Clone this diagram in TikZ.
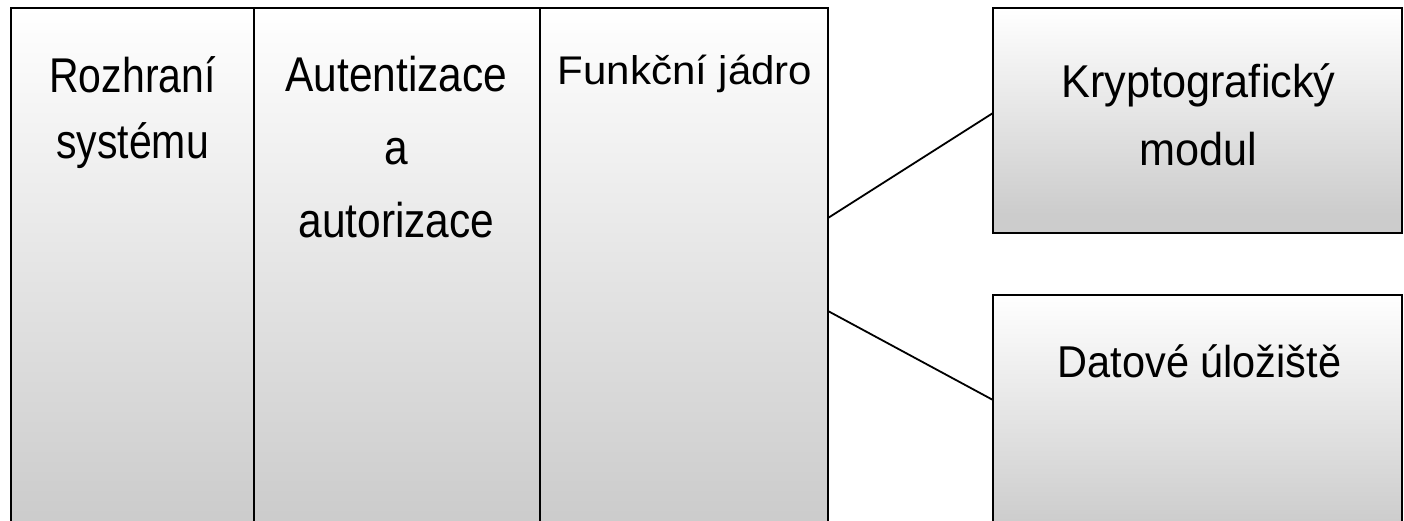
\documentclass[tikz,border=0pt]{standalone}
\usepackage{fontspec}
\setmainfont{Liberation Sans}
\newfontfamily\panelfontA{Liberation Sans}[FakeStretch=0.84]
\newfontfamily\panelfontB{Liberation Sans}[FakeStretch=0.87]
\newfontfamily\panelfontC{Liberation Sans}[FakeStretch=1.05]
\newfontfamily\panelfontD{Liberation Sans}[FakeStretch=0.94]
\newfontfamily\panelfontE{Liberation Sans}[FakeStretch=0.93]

\definecolor{panelgray}{HTML}{CCCCCC}
% white at the top, grey towards the bottom, flat in the last part
\pgfdeclareverticalshading{panelgrad}{100bp}{%
  color(0bp)=(panelgray); color(29bp)=(panelgray);
  color(75bp)=(white); color(100bp)=(white)}

\tikzset{
  panel/.style={draw=black, line width=1pt, shading=panelgrad, rectangle,
                inner sep=0pt, outer sep=0pt, anchor=north west},
  ptext/.style={inner sep=0pt, align=center, anchor=base, text=black},
  link/.style={draw=black, line width=0.9pt}
}

\begin{document}
\begin{tikzpicture}[x=0.5pt, y=-0.5pt]
  \useasboundingbox (0,0) rectangle (1404,520);
  \clip (0,0) rectangle (1404,520);

  % three stacked layers of the system
  \node[panel, minimum width=121.5pt, minimum height=276pt] (col1) at (11,8) {};
  \node[panel, minimum width=143pt,   minimum height=276pt] (col2) at (254,8) {};
  \node[panel, minimum width=144pt,   minimum height=276pt] (col3) at (540,8) {};

  % external modules
  \node[panel, minimum width=204.5pt, minimum height=112.5pt] (kb) at (993,8) {};
  \node[panel, minimum width=204.5pt, minimum height=125pt]   (ds) at (993,295) {};

  % captions (base anchor sits on the last line)
  \node[ptext, font=\panelfontA\fontsize{24.4pt}{33.3pt}\selectfont] (t1) at (132.5,158.6) {Rozhraní\\systému};
  \node[ptext, font=\panelfontB\fontsize{24.4pt}{36.3pt}\selectfont] (t2) at (396.5,237) {Autentizace\\a\\autorizace};
  \node[ptext, font=\panelfontC\fontsize{20pt}{28pt}\selectfont]     (t3) at (685,84) {Funkční jádro};
  \node[ptext, font=\panelfontD\fontsize{23pt}{34pt}\selectfont]     (t4) at (1198.5,165) {Kryptografický\\modul};
  \node[ptext, font=\panelfontE\fontsize{22.3pt}{32pt}\selectfont]   (t5) at (1199.5,377) {Datové úložiště};

  % connectors from the core to the modules
  \coordinate (j1) at (col3.north east |- 0,218);
  \coordinate (k1) at (kb.north west |- 0,113);
  \coordinate (j2) at (col3.north east |- 0,311);
  \coordinate (d1) at (ds.north west |- 0,400);
  \draw[link] (j1) -- (k1);
  \draw[link] (j2) -- (d1);
\end{tikzpicture}
\end{document}
